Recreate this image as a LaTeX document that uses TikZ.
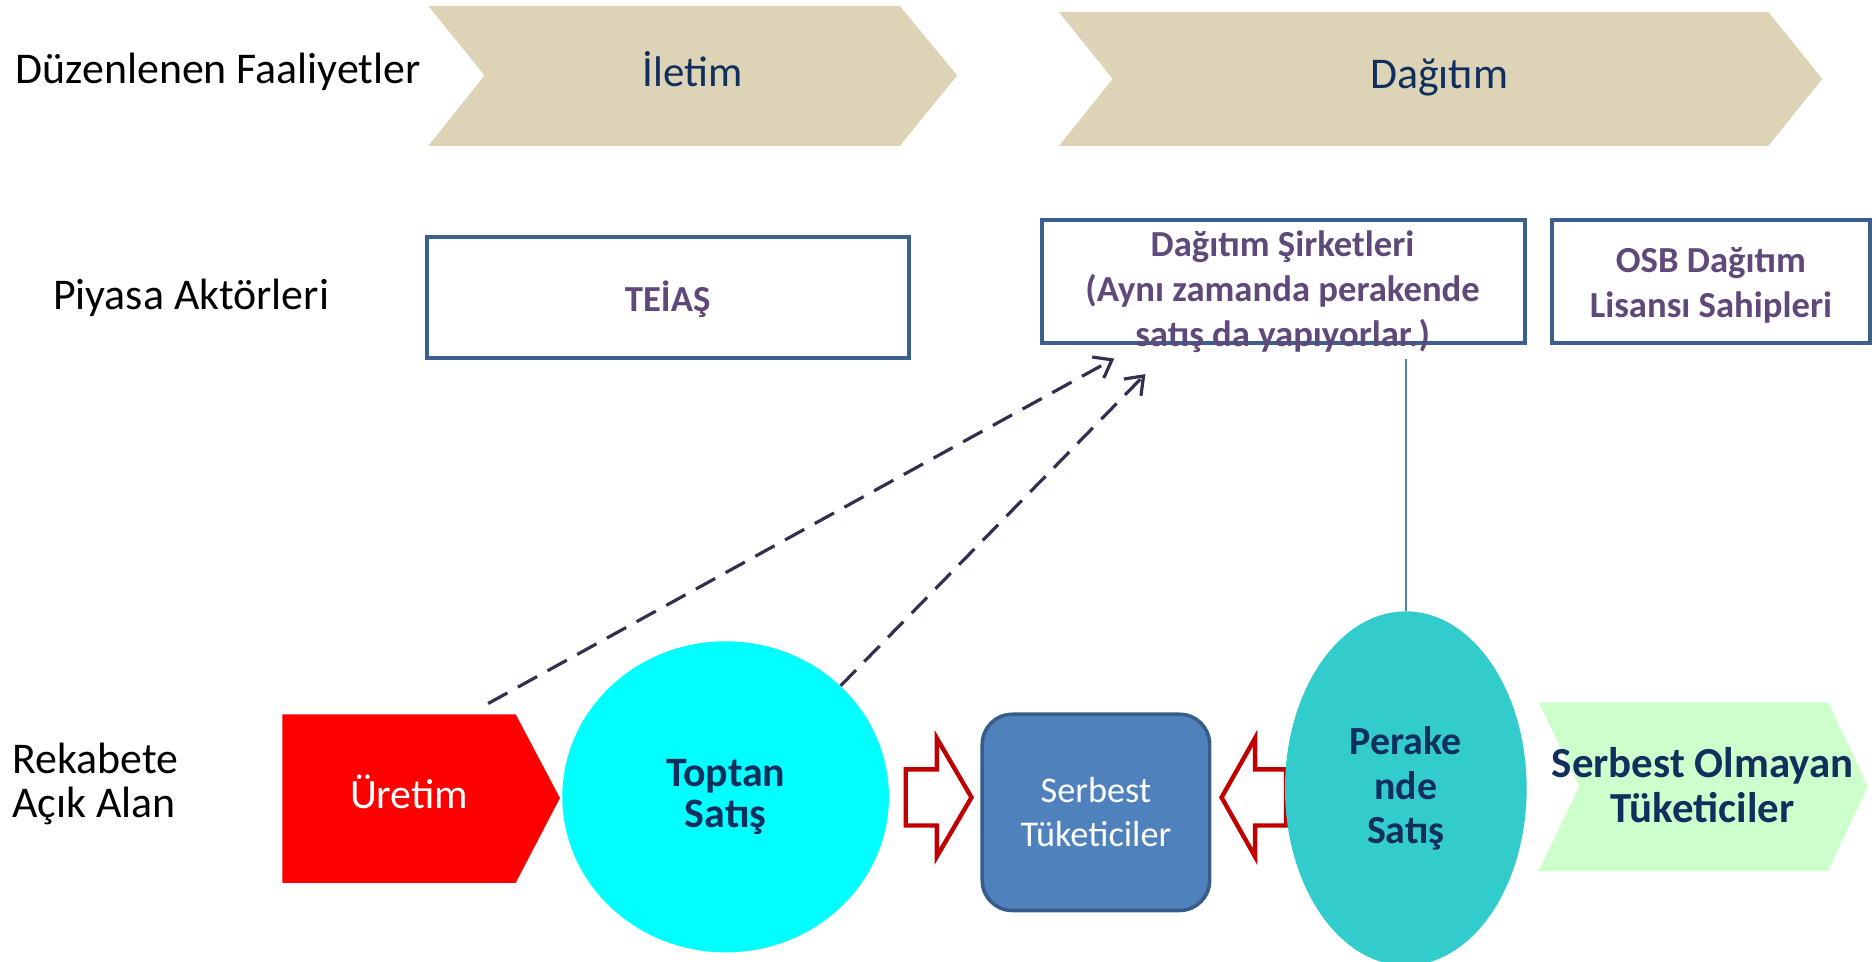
\documentclass[tikz,border=0pt]{standalone}
\usepackage{fontspec}
\setmainfont{Carlito}
\usepackage{tikz}
\usetikzlibrary{shapes,arrows.meta,positioning,calc}
\definecolor{tan}{RGB}{221,211,182}
\definecolor{navy}{RGB}{16,47,92}
\definecolor{plum}{RGB}{95,73,122}
\definecolor{frame}{RGB}{60,96,141}
\definecolor{steel}{RGB}{79,129,189}
\definecolor{steeldark}{RGB}{56,93,138}
\definecolor{darkred}{RGB}{192,0,0}
\definecolor{aqua}{RGB}{0,255,255}
\definecolor{teal}{RGB}{51,204,204}
\definecolor{mint}{RGB}{204,255,204}
\definecolor{arrowcol}{RGB}{55,45,80}
\tikzstyle{rowlabel} = [text=black, inner sep=0pt, font=\fontsize{22}{22}\selectfont, align=left]
\tikzstyle{phase} = [text=navy, inner sep=0pt, font=\fontsize{21.5}{21.5}\selectfont]
\tikzstyle{actorbox} = [rectangle, draw=frame, line width=2pt, fill=white]
\tikzstyle{actortext} = [text=plum, inner sep=0pt, align=center, font=\bfseries\fontsize{18.4}{22.5}\selectfont]
\tikzstyle{bubble} = [ellipse, draw=none, text=navy, align=center, inner sep=0pt, font=\bfseries\fontsize{21}{20.5}\selectfont]
\tikzstyle{blockarrow} = [draw=darkred, line width=2.2pt, fill=white, line join=miter]
\tikzstyle{tedge} = [draw=arrowcol, line width=1.6pt, dash pattern=on 11pt off 6pt, -{Straight Barb[length=8pt,width=12pt]}]
\tikzstyle{link} = [draw=steel, line width=0.9pt]

\begin{document}
\begin{tikzpicture}[x=0.6pt, y=-0.6pt]
\useasboundingbox (0,0) rectangle (1568,804);

% chevrons =============================
\fill[tan] (358,5) -- (752,5) -- (800,63) -- (752,122) -- (358,122) -- (405,63) -- cycle;
\fill[tan] (885,10) -- (1478,10) -- (1523,66) -- (1478,122) -- (885,122) -- (930,66) -- cycle;
\fill[red] (236,597) -- (431,597) -- (468,667) -- (431,738) -- (236,738) -- cycle;
\fill[mint] (1286,587) -- (1528,587) -- (1561,657) -- (1528,728) -- (1286,728) -- (1320,657) -- cycle;

% row labels
\node[rowlabel, anchor=base west] (duzenlenen) at (13,70) {Düzenlenen Faaliyetler};
\node[rowlabel, anchor=base west] (piyasa) at (44,259) {Piyasa Aktörleri};
\node[rowlabel, anchor=west, font=\fontsize{22}{22.2}\selectfont] (rekabet) at (10,655) {Rekabete\\Açık Alan};

% phases
\node[phase, anchor=base] (iletim) at (579,72) {İletim};
\node[phase, anchor=base, font=\fontsize{22}{22}\selectfont] (dagitim) at (1203,74) {Dağıtım};

% actors
\node[actorbox, minimum width=241.8pt, minimum height=60.6pt] (teias) at (558.5,248.5) {};
\node[actortext, anchor=base] at (558,260) {TEİAŞ};
\node[actorbox, minimum width=242.4pt, minimum height=61.8pt] (dagsirket) at (1073,235.5) {};
\node[actortext] at (1072,244) {Dağıtım Şirketleri\\(Aynı zamanda perakende\\satış da yapıyorlar.)};
\node[actorbox, minimum width=159.6pt, minimum height=61.8pt] (osb) at (1430,235.5) {};
\node[actortext] at (1430,238.5) {OSB Dağıtım\\Lisansı Sahipleri};

% block arrows
\draw[blockarrow] (757,643) -- (783,643) -- (783,617) -- (812,666.5) -- (783,716) -- (783,690) -- (757,690) -- cycle;
\draw[blockarrow] (1075,643) -- (1049,643) -- (1049,617) -- (1021,666.5) -- (1049,716) -- (1049,690) -- (1075,690) -- cycle;

% market nodes
\node[text=white, inner sep=0pt, anchor=base, font=\fontsize{21}{21}\selectfont] (uretim) at (342,676) {Üretim};
\node[bubble, fill=aqua, minimum width=163.8pt, minimum height=156pt] (toptan) at (606.5,666) {Toptan\\Satış};
\node[rectangle, rounded corners=15pt, draw=steeldark, line width=1.8pt, fill=steel, text=white, align=center,
      minimum width=114pt, minimum height=98.4pt, font=\fontsize{18.2}{22}\selectfont] (serbest) at (916,679) {Serbest\\Tüketiciler};
\node[bubble, fill=teal, minimum width=121.2pt, minimum height=177.6pt, font=\bfseries\fontsize{20}{22.5}\selectfont] (perakende) at (1175,659) {Perake\\nde\\Satış};
\node[text=navy, inner sep=0pt, align=center, font=\bfseries\fontsize{21.5}{22.8}\selectfont] (olmayan) at (1423,656) {Serbest Olmayan\\Tüketiciler};

% edges
\coordinate (uretimtop) at (408,588);
\path[tedge] (uretimtop) -- ($(dagsirket.south west)+(62,11)$);
\path[tedge] (toptan.44) -- ($(dagsirket.south west)+(88,24)$);
\path[link] (perakende.north) -- ([yshift=-6.6pt]perakende.north |- dagsirket.south);

\end{tikzpicture}
\end{document}
